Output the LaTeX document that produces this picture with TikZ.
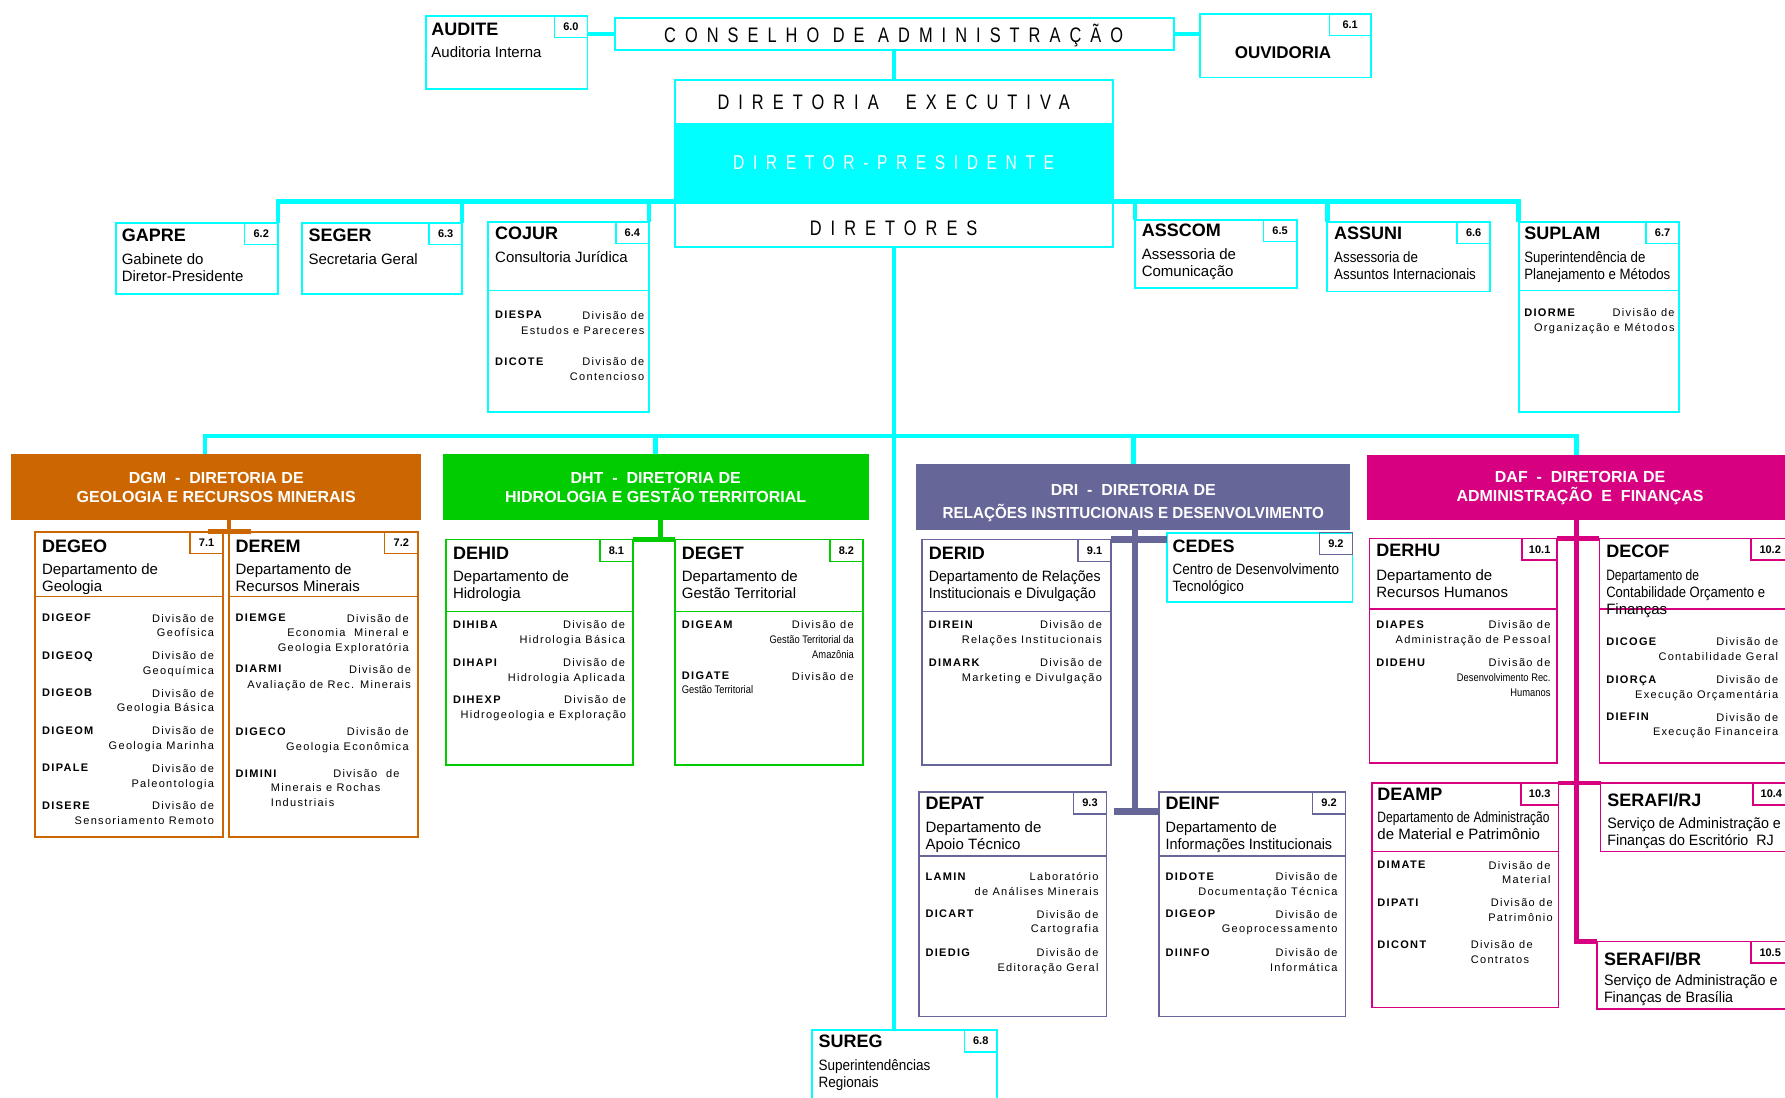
\documentclass[tikz,border=0pt]{standalone}
\usepackage{fontspec}
\usepackage{graphicx}
\setmainfont{Liberation Sans}
\newfontfamily\lsp[LetterSpace=12]{Liberation Sans}
\newfontfamily\ttlfont[FakeStretch=0.78,LetterSpace=43]{Liberation Sans}
\definecolor{cy}{RGB}{0,255,255}
\definecolor{dgmc}{RGB}{204,102,0}
\definecolor{dhtc}{RGB}{0,204,0}
\definecolor{dric}{RGB}{102,102,153}
\definecolor{dafc}{RGB}{214,0,128}
\newcommand\sx[2]{\scalebox{#1}[1]{#2}}
\newcommand\ubx[6]{\node[bx=#6, minimum width={(#4-#2)*1.1384pt}, minimum height={(#5-#3)*1.1384pt}] (#1) at (#2,#3) {};}
\newcommand\usep[3]{\draw[line width=1.5pt, draw=#2] (#1.west |- 0,#3) -- (#1.east |- 0,#3);}
\newcommand\udv[6]{\node[dvc] (#1c) at (#2,#4) {#5};\node[dvd] (#1d) at (#3,#4) {#6};}
\tikzset{
  every node/.style={inner sep=0pt, outer sep=0pt},
  ttl/.style={font=\fontsize{18}{21}\selectfont\bfseries, anchor=north west, yshift=6.4pt},
  dsc/.style={font=\fontsize{15}{17}\selectfont, align=left, anchor=north west, yshift=5.6pt},
  dvc/.style={font=\lsp\fontsize{11}{14.8}\selectfont\bfseries, anchor=north west, yshift=4.1pt},
  dvd/.style={font=\lsp\fontsize{11}{14.8}\selectfont, align=right, anchor=north east, yshift=4.1pt},
  tg/.style={draw=#1, line width=1.4pt, font=\fontsize{11}{13}\selectfont\bfseries, minimum width={29*1.1384pt}, minimum height={19*1.1384pt}, anchor=north east},
  bx/.style={draw=#1, line width=1.8pt, anchor=north west},
  hdr/.style={fill=#1, text=white, font=\fontsize{16}{19.4}\selectfont\bfseries, align=center, anchor=north west},
  cln/.style={draw=cy, line width=4.5pt},
  oln/.style={draw=dgmc, line width=4.5pt},
  gln/.style={draw=dhtc, line width=4.5pt},
  pln/.style={draw=dric, line width=6.5pt},
  mln/.style={draw=dafc, line width=4.5pt},
  bigt/.style={font=\ttlfont\fontsize{21}{24}\selectfont, anchor=base}
}
\begin{document}
\begin{tikzpicture}[x=1.1384pt,y=-1.1384pt]
\fill[white] (0,0) rectangle (1568,964);
\useasboundingbox (0,0) rectangle (1568,964);

% ---------- top level ----------
\ubx{audite}{374}{14}{516}{78}{cy}
\node[tg=cy] (taudite) at (audite.north east) {6.0};
\node[ttl] (naudite) at (379,26) {AUDITE};
\node[dsc] (daudite) at (379,46) {Auditoria Interna};

\ubx{conselho}{540}{16}{1031}{44}{cy}
\node[bigt] (tconselho) at (785,37.5) {CONSELHO DE ADMINISTRAÇÃO};

\ubx{ouvid}{1054}{12}{1204}{68}{cy}
\node[tg=cy, minimum width={36*1.1384pt}] (touvid) at (ouvid.north east) {6.1};
\node[font=\fontsize{17}{20}\selectfont\bfseries, anchor=base] (nouvid) at (1127,51.3) {OUVIDORIA};

\node[fill=cy, anchor=north west, minimum width={385*1.1384pt}, minimum height={70*1.1384pt}] (band) at (593,108) {};
\node[bigt, font=\ttlfont\fontsize{20}{22}\selectfont, text=white] (tpres) at (785,148.5) {DIRETOR-PRESIDENTE};
\ubx{diret}{593}{70}{978}{217}{cy}
\node[bigt] (texec) at (785,96.5) {DIRETORIA\ \ EXECUTIVA};
\node[bigt] (tdirs) at (785,206.5) {DIRETORES};

% ---------- staff row ----------
\ubx{gapre}{102}{196}{244}{258}{cy}
\node[tg=cy] (tgapre) at (gapre.north east) {6.2};
\node[ttl] (ngapre) at (107,207) {GAPRE};
\node[dsc] (dgapre) at (107,228) {Gabinete do\\Diretor-Presidente};

\ubx{seger}{265}{196}{406}{258}{cy}
\node[tg=cy] (tseger) at (seger.north east) {6.3};
\node[ttl] (nseger) at (271,207) {SEGER};
\node[dsc] (dseger) at (271,228) {Secretaria Geral};

\ubx{cojur}{429}{195}{570}{362}{cy}
\usep{cojur}{cy}{255}
\node[tg=cy] (tcojur) at (cojur.north east) {6.4};
\node[ttl] (ncojur) at (435,205) {COJUR};
\node[dsc] (dcojur) at (435,226) {Consultoria Jurídica};
\udv{diespa}{435}{566}{277}{DIESPA}{Divisão de\\Estudos e Pareceres}
\udv{dicote}{435}{566}{318}{DICOTE}{Divisão de\\Contencioso}

\ubx{asscom}{997}{193}{1139}{253}{cy}
\node[tg=cy] (tasscom) at (asscom.north east) {6.5};
\node[ttl] (nasscom) at (1003,202) {ASSCOM};
\node[dsc] (dasscom) at (1003,223) {Assessoria de\\Comunicação};

\ubx{assuni}{1166}{195}{1309}{256}{cy}
\node[tg=cy] (tassuni) at (assuni.north east) {6.6};
\node[ttl] (nassuni) at (1172,205) {ASSUNI};
\node[dsc] (dassuni) at (1172,226) {\sx{.89}{Assessoria de}\\\sx{.89}{Assuntos Internacionais}};

\ubx{suplam}{1334}{195}{1475}{362}{cy}
\usep{suplam}{cy}{255}
\node[tg=cy] (tsuplam) at (suplam.north east) {6.7};
\node[ttl] (nsuplam) at (1339,205) {SUPLAM};
\node[dsc] (dsuplam) at (1339,226) {\sx{.88}{Superintendência de}\\\sx{.88}{Planejamento e Métodos}};
\udv{diorme}{1339}{1471}{275}{DIORME}{Divisão de\\Organização e Métodos}

\ubx{sureg}{713}{905}{876}{968}{cy}
\node[tg=cy] (tsureg) at (sureg.north east) {6.8};
\node[ttl] (nsureg) at (719,915) {SUREG};
\node[dsc] (dsureg) at (719,936) {\sx{.9}{Superintendências}\\\sx{.9}{Regionais}};

% ---------- DGM ----------
\node[hdr=dgmc, minimum width={360*1.1384pt}, minimum height={58*1.1384pt}] (dgm) at (10,399) {DGM \ - \ DIRETORIA DE\\GEOLOGIA E RECURSOS MINERAIS};
\ubx{degeo}{31}{467}{196}{735}{dgmc}
\usep{degeo}{dgmc}{524}
\node[tg=dgmc] (tdegeo) at (degeo.north east) {7.1};
\node[ttl] (ndegeo) at (37,480) {DEGEO};
\node[dsc] (ddegeo) at (37,500) {Departamento de\\Geologia};
\udv{digeof}{37}{188}{543}{DIGEOF}{Divisão de\\Geofísica}
\udv{digeoq}{37}{188}{576}{DIGEOQ}{Divisão de\\Geoquímica}
\udv{digeob}{37}{188}{609}{DIGEOB}{Divisão de\\Geologia Básica}
\udv{digeom}{37}{188}{642}{DIGEOM}{Divisão de\\Geologia Marinha}
\udv{dipale}{37}{188}{675}{DIPALE}{Divisão de\\Paleontologia}
\udv{disere}{37}{188}{708}{DISERE}{Divisão de\\Sensoriamento Remoto}

\ubx{derem}{201}{467}{367}{735}{dgmc}
\usep{derem}{dgmc}{524}
\node[tg=dgmc] (tderem) at (derem.north east) {7.2};
\node[ttl] (nderem) at (207,480) {DEREM};
\node[dsc] (dderem) at (207,500) {Departamento de\\Recursos Minerais};
\udv{diemge}{207}{359}{543}{DIEMGE}{Divisão de\\Economia \ Mineral e\\Geologia Exploratória}
\udv{diarmi}{207}{361}{588}{DIARMI}{Divisão de\\Avaliação de Rec. Minerais}
\udv{digeco}{207}{359}{643}{DIGECO}{Divisão de\\Geologia Econômica}
\udv{dimini}{207}{351}{680}{DIMINI}{Divisão \ de}
\node[dvd, anchor=north west, align=left] (dimini2) at (238,692) {Minerais e Rochas\\Industriais};

% ---------- DHT ----------
\node[hdr=dhtc, minimum width={374*1.1384pt}, minimum height={58*1.1384pt}] (dht) at (389,399) {DHT \ - \ DIRETORIA DE\\HIDROLOGIA E GESTÃO TERRITORIAL};
\ubx{dehid}{392}{474}{556}{672}{dhtc}
\usep{dehid}{dhtc}{537}
\node[tg=dhtc] (tdehid) at (dehid.north east) {8.1};
\node[ttl] (ndehid) at (398,486) {DEHID};
\node[dsc] (ddehid) at (398,506) {Departamento de\\Hidrologia};
\udv{dihiba}{398}{549}{549}{DIHIBA}{Divisão de\\Hidrologia Básica}
\udv{dihapi}{398}{549}{582}{DIHAPI}{Divisão de\\Hidrologia Aplicada}
\udv{dihexp}{398}{550}{615}{DIHEXP}{Divisão de\\Hidrogeologia e Exploração}

\ubx{deget}{593}{474}{758}{672}{dhtc}
\usep{deget}{dhtc}{537}
\node[tg=dhtc] (tdeget) at (deget.north east) {8.2};
\node[ttl] (ndeget) at (599,486) {DEGET};
\node[dsc] (ddeget) at (599,506) {Departamento de\\Gestão Territorial};
\udv{digeam}{599}{750}{549}{DIGEAM}{Divisão de\\\sx{.85}{\rmfamily Gestão Territorial da}\\\sx{.85}{\rmfamily Amazônia}}
\udv{digate}{599}{750}{594}{DIGATE}{Divisão de}
\node[dvd, anchor=north west, align=left] (digate2) at (599,606) {\sx{.85}{\rmfamily Gestão Territorial}};

% ---------- DRI ----------
\node[hdr=dric, minimum width={381*1.1384pt}, minimum height={58*1.1384pt}] (dri) at (805,408) {};
\node[text=white, font=\fontsize{16}{23.5}\selectfont\bfseries, align=center, anchor=base] (dritxt) at (995.5,455.5) {DRI \ - \ DIRETORIA DE\\\sx{.95}{RELAÇÕES INSTITUCIONAIS E DESENVOLVIMENTO}};
\ubx{derid}{810}{474}{976}{672}{dric}
\usep{derid}{dric}{537}
\node[tg=dric] (tderid) at (derid.north east) {9.1};
\node[ttl] (nderid) at (816,486) {DERID};
\node[dsc] (dderid) at (816,506) {\sx{.94}{Departamento de Relações}\\\sx{.94}{Institucionais e Divulgação}};
\udv{direin}{816}{968}{549}{DIREIN}{Divisão de\\Relações Institucionais}
\udv{dimark}{816}{968}{582}{DIMARK}{Divisão de\\Marketing e Divulgação}

\ubx{cedes}{1025}{468}{1188}{529}{cy}
\node[tg=dric] (tcedes) at (cedes.north east) {9.2};
\node[ttl] (ncedes) at (1030,480) {CEDES};
\node[dsc] (dcedes) at (1030,500) {\sx{.9}{Centro de Desenvolvimento}\\\sx{.9}{Tecnológico}};

\ubx{depat}{807}{696}{972}{893}{dric}
\usep{depat}{dric}{752}
\node[tg=dric] (tdepat) at (depat.north east) {9.3};
\node[ttl] (ndepat) at (813,706) {DEPAT};
\node[dsc] (ddepat) at (813,727) {Departamento de\\Apoio Técnico};
\udv{lamin}{813}{965}{770}{LAMIN}{Laboratório\\de Análises Minerais}
\udv{dicart}{813}{965}{803}{DICART}{Divisão de\\Cartografia}
\udv{diedig}{813}{965}{837}{DIEDIG}{Divisão de\\Editoração Geral}

\ubx{deinf}{1018}{696}{1182}{893}{dric}
\usep{deinf}{dric}{752}
\node[tg=dric] (tdeinf) at (deinf.north east) {9.2};
\node[ttl] (ndeinf) at (1024,706) {DEINF};
\node[dsc] (ddeinf) at (1024,727) {\sx{.96}{Departamento de}\\\sx{.96}{Informações Institucionais}};
\udv{didote}{1024}{1175}{770}{DIDOTE}{Divisão de\\Documentação Técnica}
\udv{digeop}{1024}{1175}{803}{DIGEOP}{Divisão de\\Geoprocessamento}
\udv{diinfo}{1024}{1175}{837}{DIINFO}{Divisão de\\Informática}

% ---------- DAF ----------
\node[hdr=dafc, minimum width={374*1.1384pt}, minimum height={57*1.1384pt}] (daf) at (1201,400) {DAF \ - \ DIRETORIA DE\\ADMINISTRAÇÃO \ E \ FINANÇAS};
\ubx{derhu}{1203}{473}{1368}{670}{dafc}
\usep{derhu}{dafc}{535}
\node[tg=dafc, minimum width={31*1.1384pt}] (tderhu) at (derhu.north east) {10.1};
\node[ttl] (nderhu) at (1209,484) {DERHU};
\node[dsc] (dderhu) at (1209,505) {Departamento de\\Recursos Humanos};
\udv{diapes}{1209}{1362}{549}{DIAPES}{Divisão de\\Administração de Pessoal}
\udv{didehu}{1209}{1362}{582}{DIDEHU}{Divisão de\\\sx{.85}{\rmfamily Desenvolvimento Rec.}\\\sx{.85}{\rmfamily Humanos}}

\ubx{decof}{1405}{473}{1572}{670}{dafc}
\usep{decof}{dafc}{535}
\node[tg=dafc, minimum width={34*1.1384pt}] (tdecof) at (decof.north east) {10.2};
\node[ttl] (ndecof) at (1411,484) {DECOF};
\node[dsc] (ddecof) at (1411,505) {\sx{.8}{Departamento de}\\\sx{.87}{Contabilidade Orçamento e}\\Finanças};
\udv{dicoge}{1411}{1562}{564}{DICOGE}{Divisão de\\Contabilidade Geral}
\udv{diorca}{1411}{1562}{597}{DIORÇA}{Divisão de\\Execução Orçamentária}
\udv{diefin}{1411}{1562}{630}{DIEFIN}{Divisão de\\Execução Financeira}

\ubx{deamp}{1205}{688}{1369}{885}{dafc}
\usep{deamp}{dafc}{748}
\node[tg=dafc, minimum width={33*1.1384pt}] (tdeamp) at (deamp.north east) {10.3};
\node[ttl] (ndeamp) at (1210,698) {DEAMP};
\node[dsc] (ddeamp) at (1210,718) {\sx{.8}{Departamento de Administração}\\de Material e Patrimônio};
\udv{dimate}{1210}{1362}{760}{DIMATE}{Divisão de\\Material}
\udv{dipati}{1210}{1364}{793}{DIPATI}{Divisão de\\Patrimônio}
\node[dvc] (dicontc) at (1210,830) {DICONT};
\node[dvd, anchor=north west, align=left] (dicontd) at (1292,830) {Divisão de\\Contratos};

\ubx{serafirj}{1406}{688}{1572}{748}{dafc}
\node[tg=dafc, minimum width={32*1.1384pt}] (tserafirj) at (serafirj.north east) {10.4};
\node[ttl] (nserafirj) at (1412,703) {SERAFI/RJ};
\node[dsc] (dserafirj) at (1412,723) {\sx{.95}{Serviço de Administração e}\\\sx{.95}{Finanças do Escritório \ RJ}};

\ubx{serafibr}{1403}{827}{1572}{886}{dafc}
\node[tg=dafc, minimum width={34*1.1384pt}] (tserafibr) at (serafibr.north east) {10.5};
\node[ttl] (nserafibr) at (1409,842) {SERAFI/BR};
\node[dsc] (dserafibr) at (1409,861) {\sx{.95}{Serviço de Administração e}\\\sx{.95}{Finanças de Brasília}};

% ---------- connectors ----------
\draw[cln] (audite.east |- conselho.west) -- (conselho.west);
\draw[cln] (conselho.east) -- (conselho.east -| ouvid.west);
\draw[cln] (conselho.south) -- (diret.north);
\coordinate (hubA) at (785,177);
\draw[cln] (gapre.north east) |- (hubA) -| (suplam.north west);
\draw[cln] (seger.north east) -- (seger.north east |- hubA);
\draw[cln] (cojur.north east) -- (cojur.north east |- hubA);
\draw[cln] (asscom.north west) -- (asscom.north west |- hubA);
\draw[cln] (assuni.north west) -- (assuni.north west |- hubA);
\draw[cln] (diret.south) -- (diret.south |- sureg.north);
\coordinate (hubB) at (785,383);
\coordinate (dgmin) at (180,399);
\coordinate (dafin) at (1385,400);
\draw[cln] (dgmin) |- (hubB) -| (dafin);
\draw[cln] (dht.north) -- (dht.north |- hubB);
\draw[cln] (dri.north) -- (dri.north |- hubB);

\draw[oln] (derem.north west |- dgm.south) -- (derem.north west);
\draw[oln] ([xshift=-21pt]derem.north west) -- ([xshift=22pt]derem.north west);
\coordinate (dhtc1) at (580,457);
\draw[gln] (dhtc1) -- (dhtc1 |- dehid.north);
\draw[gln] (dehid.north east) -- (deget.north west);
\coordinate (drib) at (997,713);
\draw[pln] (dri.south -| drib) -- (drib);
\draw[pln] (derid.north east) -- (cedes.west |- derid.north);
\draw[pln] ([xshift=7pt]depat.east |- drib) -- (deinf.west |- drib);
\coordinate (dafb) at (1385,827);
\draw[mln] (daf.south -| dafb) -- (dafb) -- (serafibr.north west);
\draw[mln] (derhu.north east) -- (decof.north west);
\draw[mln] (deamp.north east) -- (serafirj.north west);
\end{tikzpicture}
\end{document}
